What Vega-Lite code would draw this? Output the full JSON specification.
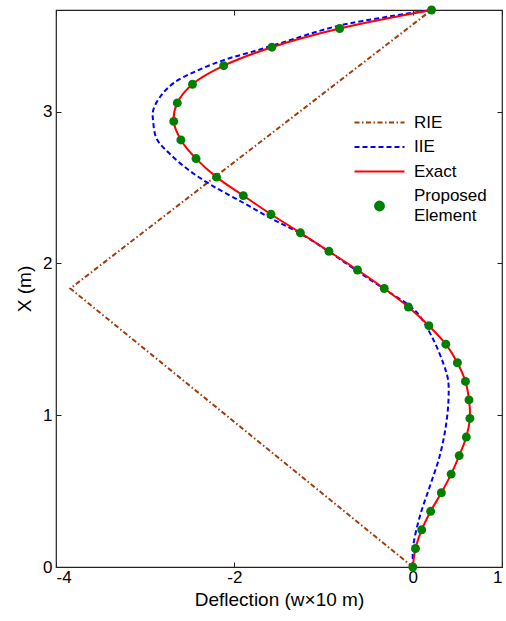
{
  "$schema": "https://vega.github.io/schema/vega-lite/v6.json",
  "width": 446,
  "height": 557,
  "autosize": {"type": "none"},
  "padding": {"left": 56, "top": 10, "right": 4, "bottom": 54},
  "config": {
    "font": "Liberation Sans",
    "view": {"stroke": "#222222", "strokeWidth": 1.2},
    "axis": {
      "grid": false,
      "domain": false,
      "tickColor": "#222222",
      "tickSize": -5,
      "labelColor": "#000000",
      "labelFontSize": 17,
      "labelFont": "Liberation Sans",
      "titleFont": "Liberation Sans",
      "titleFontSize": 19,
      "titleFontWeight": "normal",
      "titleColor": "#000000"
    }
  },
  "datasets": {
    "rie": [
      {"i": 0, "d": 0, "X": 0},
      {"i": 1, "d": -3.84, "X": 1.835},
      {"i": 2, "d": 0.21, "X": 3.67}
    ],
    "iie": [
      {"i": 0, "d": 0, "X": 0},
      {"i": 1, "d": 0.004, "X": 0.134},
      {"i": 2, "d": 0.078, "X": 0.332},
      {"i": 3, "d": 0.19, "X": 0.53},
      {"i": 4, "d": 0.30, "X": 0.728},
      {"i": 5, "d": 0.37, "X": 0.926},
      {"i": 6, "d": 0.40, "X": 1.10},
      {"i": 7, "d": 0.395, "X": 1.234},
      {"i": 8, "d": 0.34, "X": 1.345},
      {"i": 9, "d": 0.23, "X": 1.498},
      {"i": 10, "d": 0.08, "X": 1.652},
      {"i": 11, "d": -0.03, "X": 1.718},
      {"i": 12, "d": -0.33, "X": 1.835},
      {"i": 13, "d": -0.64, "X": 1.957},
      {"i": 14, "d": -0.97, "X": 2.09},
      {"i": 15, "d": -1.30, "X": 2.21},
      {"i": 16, "d": -1.60, "X": 2.30},
      {"i": 17, "d": -1.90, "X": 2.40},
      {"i": 18, "d": -2.24, "X": 2.51},
      {"i": 19, "d": -2.50, "X": 2.61},
      {"i": 20, "d": -2.72, "X": 2.72},
      {"i": 21, "d": -2.87, "X": 2.82},
      {"i": 22, "d": -2.91, "X": 2.93},
      {"i": 23, "d": -2.91, "X": 3.01},
      {"i": 24, "d": -2.83, "X": 3.10},
      {"i": 25, "d": -2.68, "X": 3.19},
      {"i": 26, "d": -2.42, "X": 3.27},
      {"i": 27, "d": -2.12, "X": 3.34},
      {"i": 28, "d": -1.83, "X": 3.39},
      {"i": 29, "d": -1.49, "X": 3.45},
      {"i": 30, "d": -0.84, "X": 3.565},
      {"i": 31, "d": 0.21, "X": 3.67}
    ],
    "exact": [
      {"i": 0, "X": 0, "d": 0},
      {"i": 1, "X": 0.122, "d": 0.03},
      {"i": 2, "X": 0.245, "d": 0.10},
      {"i": 3, "X": 0.367, "d": 0.20},
      {"i": 4, "X": 0.489, "d": 0.32},
      {"i": 5, "X": 0.612, "d": 0.43},
      {"i": 6, "X": 0.734, "d": 0.52},
      {"i": 7, "X": 0.856, "d": 0.60},
      {"i": 8, "X": 0.979, "d": 0.64},
      {"i": 9, "X": 1.101, "d": 0.63},
      {"i": 10, "X": 1.223, "d": 0.59},
      {"i": 11, "X": 1.346, "d": 0.50},
      {"i": 12, "X": 1.468, "d": 0.37},
      {"i": 13, "X": 1.590, "d": 0.18},
      {"i": 14, "X": 1.713, "d": -0.05},
      {"i": 15, "X": 1.835, "d": -0.32},
      {"i": 16, "X": 1.957, "d": -0.62},
      {"i": 17, "X": 2.080, "d": -0.94},
      {"i": 18, "X": 2.202, "d": -1.26},
      {"i": 19, "X": 2.324, "d": -1.59},
      {"i": 20, "X": 2.447, "d": -1.90},
      {"i": 21, "X": 2.569, "d": -2.20},
      {"i": 22, "X": 2.691, "d": -2.43},
      {"i": 23, "X": 2.814, "d": -2.60},
      {"i": 24, "X": 2.936, "d": -2.68},
      {"i": 25, "X": 3.058, "d": -2.64},
      {"i": 26, "X": 3.181, "d": -2.47},
      {"i": 27, "X": 3.303, "d": -2.12},
      {"i": 28, "X": 3.425, "d": -1.58},
      {"i": 29, "X": 3.548, "d": -0.82},
      {"i": 30, "X": 3.670, "d": 0.21}
    ]
  },
  "resolve": {"axis": {"x": "independent", "y": "independent"}},
  "layer": [
    {
      "data": {"name": "rie"},
      "mark": {"type": "line", "strokeWidth": 2, "strokeDash": [5, 2.5, 1.5, 2.5]},
      "encoding": {
        "x": {"field": "d", "type": "quantitative", "scale": {"domain": [-4, 1], "nice": false, "zero": false},
              "axis": {"title": "Deflection (w×10 m)", "values": [-4, -2, 0, 1], "labelPadding": 7, "titlePadding": 5,
                       "labelExpr": "datum.value < 0 ? '-' + abs(datum.value) : '' + datum.value"}},
        "y": {"field": "X", "type": "quantitative", "scale": {"domain": [0, 3.67], "nice": false},
              "axis": {"title": "X (m)", "values": [0, 1, 2, 3], "labelPadding": 9, "titlePadding": 8}},
        "order": {"field": "i", "type": "quantitative"},
        "color": {"datum": "RIE", "type": "nominal",
          "scale": {"domain": ["RIE", "IIE", "Exact", "Proposed Element"], "range": ["#A03C0A", "#0000FF", "#FF0000", "#008000"]},
          "legend": {
            "title": null, "orient": "none", "legendX": 315, "legendY": 104,
            "labelFontSize": 17, "labelFont": "Liberation Sans", "labelColor": "#000000",
            "symbolSize": 100, "symbolType": "M-5,0H5", "symbolStrokeWidth": 2, "rowPadding": 6.5, "labelOffset": 26,
            "labelExpr": "datum.label == 'Proposed Element' ? ['Proposed', 'Element'] : datum.label",
            "encode": {
              "labels": {"update": {
                "dy": {"signal": "datum.value == 'Proposed Element' ? -10 : 0"},
                "lineHeight": {"value": 20}
              }},
              "symbols": {"update": {
                "shape": {"signal": "datum.value == 'Proposed Element' ? 'circle' : 'M-5,0H5'"},
                "size": {"signal": "datum.value == 'Proposed Element' ? 80 : 100"},
                "fill": {"signal": "datum.value == 'Proposed Element' ? '#008000' : 'transparent'"},
                "stroke": {"signal": "datum.value == 'Proposed Element' ? 'transparent' : (datum.value == 'RIE' ? '#A03C0A' : (datum.value == 'IIE' ? '#0000FF' : '#FF0000'))"},
                "strokeWidth": {"value": 2},
                "opacity": {"value": 1},
                "strokeDash": {"signal": "datum.value == 'RIE' ? [5, 2.5, 1.5, 2.5] : (datum.value == 'IIE' ? [5, 3] : [])"}
              }}
            }
          }}
      }
    },
    {
      "data": {"name": "iie"},
      "mark": {"type": "line", "strokeWidth": 2, "strokeDash": [5, 3], "interpolate": "catmull-rom"},
      "encoding": {
        "x": {"field": "d", "type": "quantitative", "axis": null},
        "y": {"field": "X", "type": "quantitative", "axis": null},
        "order": {"field": "i", "type": "quantitative"},
        "color": {"datum": "IIE", "type": "nominal"}
      }
    },
    {
      "data": {"name": "exact"},
      "mark": {"type": "line", "strokeWidth": 2, "interpolate": "catmull-rom"},
      "encoding": {
        "x": {"field": "d", "type": "quantitative", "axis": {"orient": "top", "labels": false, "title": null, "values": [-4, -2, 0, 1]}},
        "y": {"field": "X", "type": "quantitative", "axis": {"orient": "right", "labels": false, "title": null, "values": [0, 1, 2, 3]}},
        "order": {"field": "i", "type": "quantitative"},
        "color": {"datum": "Exact", "type": "nominal"}
      }
    },
    {
      "data": {"name": "exact"},
      "mark": {"type": "point", "filled": true, "shape": "circle", "size": 80, "opacity": 1},
      "encoding": {
        "x": {"field": "d", "type": "quantitative", "axis": null},
        "y": {"field": "X", "type": "quantitative", "axis": null},
        "color": {"datum": "Proposed Element", "type": "nominal"}
      }
    }
  ]
}
